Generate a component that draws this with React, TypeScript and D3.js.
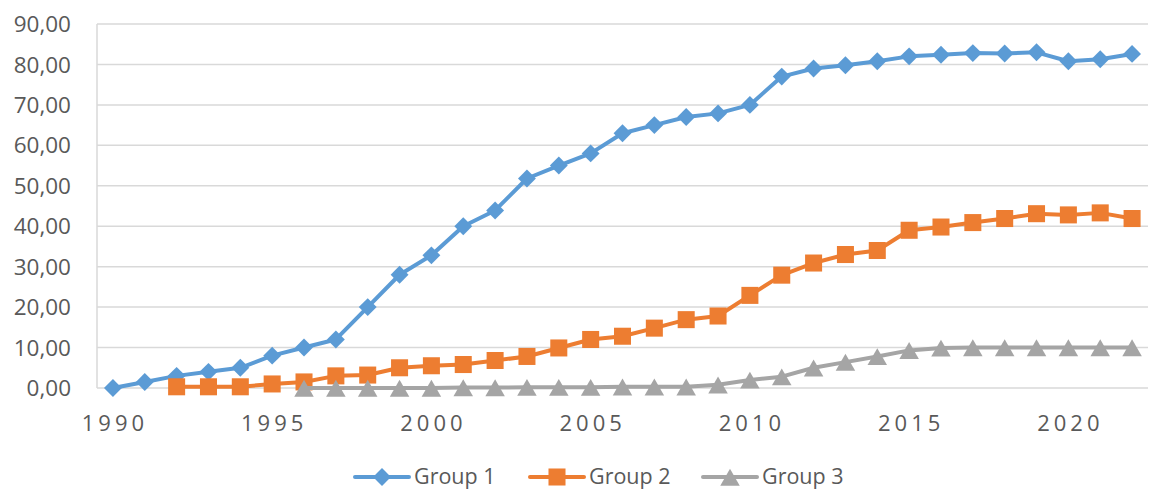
import React, { useEffect, useRef } from 'react';
import * as d3 from 'd3';

const years: number[] = d3.range(1990, 2023);

// null = no value for that year
const group1: (number | null)[] = [
  0, 1.5, 3, 4, 5, 8, 10, 12, 20, 28, 32.8, 40, 43.9, 51.8, 55, 58, 63, 65, 67, 67.9,
  70, 77, 79, 79.8, 80.8, 82, 82.4, 82.8, 82.7, 83, 80.8, 81.3, 82.6,
];
const group2: (number | null)[] = [
  null, null, 0.3, 0.3, 0.3, 1, 1.5, 3, 3.2, 5, 5.5, 5.8, 6.8, 7.8, 9.9, 12, 12.8, 14.8, 16.9, 17.8,
  22.9, 27.9, 30.9, 33, 34, 39, 39.8, 40.9, 41.9, 43.1, 42.8, 43.3, 41.9,
];
const group3: (number | null)[] = [
  null, null, null, null, null, null, 0, 0, 0, 0, 0, 0.1, 0.1, 0.2, 0.2, 0.2, 0.3, 0.3, 0.3, 0.8,
  2, 2.8, 5, 6.4, 7.8, 9.3, 9.9, 10, 10, 10, 10, 10, 10,
];
const yTicks: number[] = [0, 10, 20, 30, 40, 50, 60, 70, 80, 90];
const xLabelYears: number[] = [1990, 1995, 2000, 2005, 2010, 2015, 2020];

const seriesNames = ['Group 1', 'Group 2', 'Group 3'];
const seriesColors = ['#5B9BD5', '#ED7D31', '#A5A5A5'];

const FONT = '"Open Sans", sans-serif';
const TEXT = '#595959';

// marker shapes: diamond = rotated square, square, triangle nudged so the line crosses its upper half
const markerPath = [
  d3.symbol().type(d3.symbolSquare).size(160)(),
  d3.symbol().type(d3.symbolSquare).size(290)(),
  d3.symbol().type(d3.symbolTriangle).size(165)(),
];
const markerTransform = ['rotate(45)', '', 'translate(0,3)'];

const App: React.FC = () => {
  const ref = useRef<SVGSVGElement | null>(null);

  useEffect(() => {
    if (!ref.current) return;
    const svg = d3.select(ref.current);
    svg.selectAll('*').remove();

    const width = 1150;
    const height = 491;
    const left = 97;
    const right = 1148;
    const top = 24;
    const bottom = 388;

    svg.attr('width', width).attr('height', height);

    const x = d3.scaleBand<number>().domain(years).range([left, right]).padding(0);
    const cx = (yr: number) => (x(yr) || 0) + x.bandwidth() / 2;
    const y = d3.scaleLinear().domain([0, 90]).range([bottom, top]);

    // gridlines
    svg.append('g')
      .selectAll('line')
      .data(yTicks)
      .enter()
      .append('line')
      .attr('x1', left)
      .attr('x2', right)
      .attr('y1', (d) => y(d))
      .attr('y2', (d) => y(d))
      .attr('stroke', '#D9D9D9')
      .attr('stroke-width', 1.5);

    // vertical axis line
    svg.append('line')
      .attr('x1', left).attr('x2', left)
      .attr('y1', top).attr('y2', bottom)
      .attr('stroke', '#D9D9D9')
      .attr('stroke-width', 1.5);

    // y labels
    svg.append('g')
      .selectAll('text')
      .data(yTicks)
      .enter()
      .append('text')
      .attr('x', 71)
      .attr('y', (d) => y(d))
      .attr('dy', '0.36em')
      .attr('text-anchor', 'end')
      .style('font-family', FONT)
      .style('font-size', '22.5px')
      .style('fill', TEXT)
      .text((d) => d3.format('.2f')(d).replace('.', ','));

    // x labels
    svg.append('g')
      .selectAll('text')
      .data(xLabelYears)
      .enter()
      .append('text')
      .attr('x', (d) => cx(d) + 2)
      .attr('y', 431)
      .attr('text-anchor', 'middle')
      .style('font-family', FONT)
      .style('font-size', '22px')
      .style('letter-spacing', '4px')
      .style('fill', TEXT)
      .text((d) => String(d));

    const line = d3.line<[number, number | null]>()
      .defined((d) => d[1] !== null)
      .x((d) => cx(d[0]))
      .y((d) => y(d[1] as number));

    seriesNames.forEach((_, i) => {
      const vals = [group1, group2, group3][i];
      const pts: [number, number | null][] = years.map((yr, k) => [yr, vals[k]]);
      const g = svg.append('g');
      g.append('path')
        .datum(pts)
        .attr('d', line)
        .attr('fill', 'none')
        .attr('stroke', seriesColors[i])
        .attr('stroke-width', 4)
        .attr('stroke-linejoin', 'round');
      g.selectAll('path.m')
        .data(pts.filter((d) => d[1] !== null))
        .enter()
        .append('path')
        .attr('class', 'm')
        .attr('d', markerPath[i])
        .attr('transform', (d) => `translate(${cx(d[0])},${y(d[1] as number)}) ${markerTransform[i]}`)
        .attr('fill', seriesColors[i]);
    });

    // legend
    const legendX = [355, 530, 703];
    const legendY = 477;
    seriesNames.forEach((name, i) => {
      const g = svg.append('g').attr('transform', `translate(${legendX[i]},${legendY})`);
      g.append('line')
        .attr('x1', 0).attr('x2', 54)
        .attr('y1', 0).attr('y2', 0)
        .attr('stroke', seriesColors[i])
        .attr('stroke-width', 4)
        .attr('stroke-linecap', 'round');
      g.append('path')
        .attr('d', markerPath[i])
        .attr('transform', `translate(27,0) ${markerTransform[i]}`)
        .attr('fill', seriesColors[i]);
      g.append('text')
        .attr('x', 59)
        .attr('y', 0)
        .attr('dy', '0.34em')
        .style('font-family', FONT)
        .style('font-size', '21.5px')
        .style('fill', TEXT)
        .text(name);
    });
  }, []);

  return (
    <div style={{ position: 'absolute', left: 0, top: 0, width: 1150, height: 491, overflow: 'hidden' }}>
      <svg ref={ref} style={{ display: 'block' }}></svg>
    </div>
  );
};

export default App;
